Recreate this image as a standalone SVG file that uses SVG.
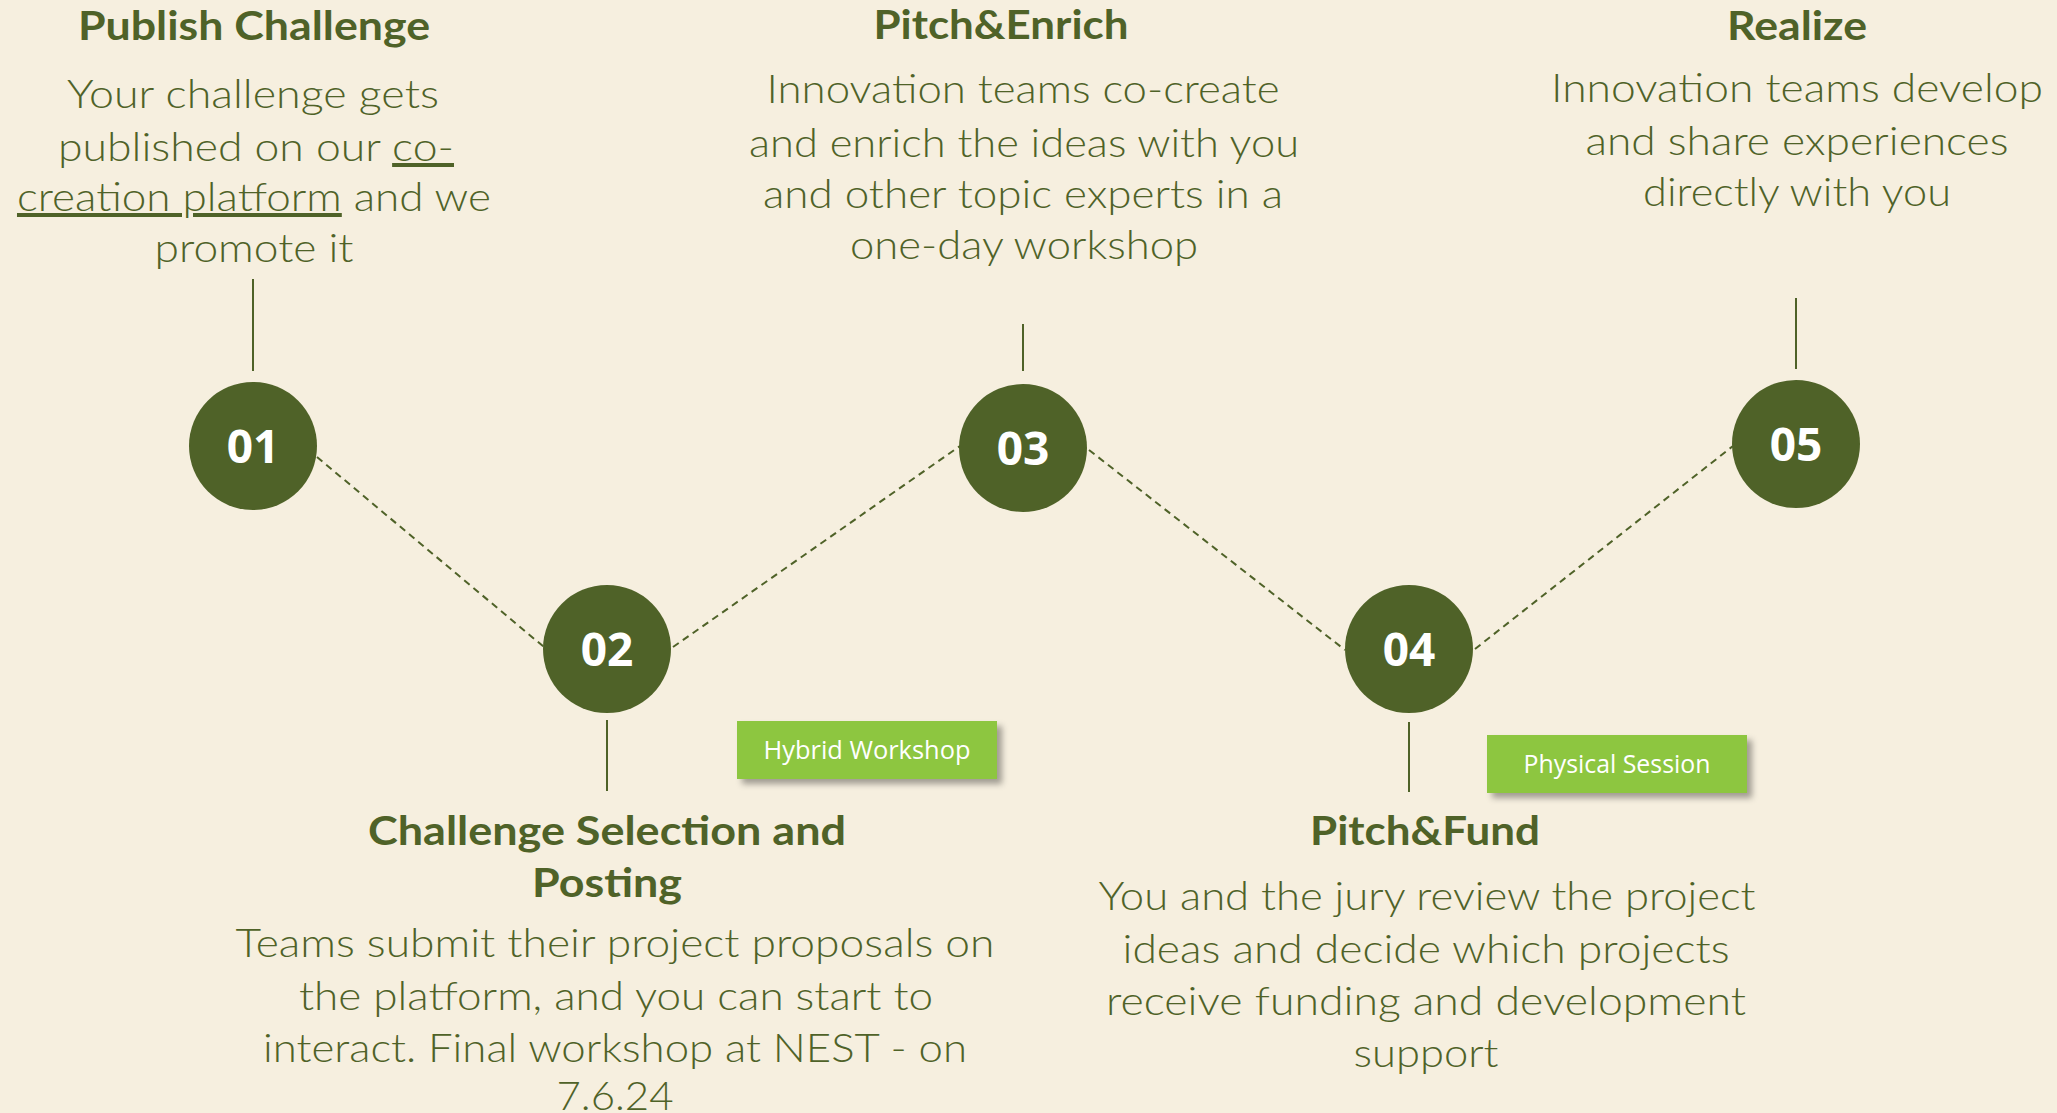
<svg xmlns="http://www.w3.org/2000/svg" width="2057" height="1113" viewBox="0 0 2057 1113">
<defs>
<filter id="sh" x="-10%" y="-20%" width="130%" height="160%">
<feDropShadow dx="5" dy="5" stdDeviation="3" flood-color="#000" flood-opacity="0.35"/>
</filter>
<style>
.bg{fill:#F6EFDF}
.circ{fill:#4F6228}
.num{font-family:"Open Sans","Liberation Sans",sans-serif;font-weight:700;font-size:46px;fill:#fff;text-anchor:middle}
.head{font-family:Lato,"Liberation Sans",sans-serif;font-weight:700;font-size:40px;fill:#4F6228;text-anchor:middle}
.body{font-family:Lato,"Liberation Sans",sans-serif;font-weight:300;font-size:40px;fill:#4F6228;text-anchor:middle}
.dash{stroke:#4F6228;stroke-width:2;stroke-dasharray:7 5;fill:none}
.stem{stroke:#4F6228;stroke-width:2;fill:none}
.tag{fill:#8DC63F}
.tagt{font-family:"Open Sans","Liberation Sans",sans-serif;font-size:25px;fill:#fff;text-anchor:middle}
</style>
</defs>
<rect class="bg" x="0" y="0" width="2057" height="1113"/>

<g id="connectors">
<line class="dash" x1="317" y1="457" x2="544" y2="647"/>
<line class="dash" x1="673" y1="647" x2="960" y2="446"/>
<line class="dash" x1="1089" y1="450" x2="1345" y2="650"/>
<line class="dash" x1="1475" y1="649" x2="1733" y2="446"/>
<line class="stem" x1="253" y1="279" x2="253" y2="371"/>
<line class="stem" x1="1023" y1="324" x2="1023" y2="371"/>
<line class="stem" x1="1796" y1="298" x2="1796" y2="369"/>
<line class="stem" x1="607" y1="720" x2="607" y2="791"/>
<line class="stem" x1="1409" y1="722" x2="1409" y2="792"/>
</g>

<g id="node-01">
<circle class="circ" cx="253" cy="446" r="64"/>
<text class="num" x="253" y="463">01</text>
<text class="head" x="254" y="40" textLength="352" lengthAdjust="spacingAndGlyphs">Publish Challenge</text>
<text class="body" x="253" y="108" textLength="372" lengthAdjust="spacingAndGlyphs">Your challenge gets</text>
<text class="body" x="256" y="161" textLength="396" lengthAdjust="spacingAndGlyphs">published on our <tspan text-decoration="underline">co-</tspan></text>
<text class="body" x="254" y="211" textLength="474" lengthAdjust="spacingAndGlyphs"><tspan text-decoration="underline">creation platform</tspan> and we</text>
<text class="body" x="254" y="262" textLength="199" lengthAdjust="spacingAndGlyphs">promote it</text>
</g>

<g id="node-02">
<circle class="circ" cx="607" cy="649" r="64"/>
<text class="num" x="607" y="666">02</text>
<text class="head" x="607" y="845" textLength="478" lengthAdjust="spacingAndGlyphs">Challenge Selection and</text>
<text class="head" x="607" y="897" textLength="150" lengthAdjust="spacingAndGlyphs">Posting</text>
<text class="body" x="615" y="957" textLength="759" lengthAdjust="spacingAndGlyphs">Teams submit their project proposals on</text>
<text class="body" x="616" y="1010" textLength="634" lengthAdjust="spacingAndGlyphs">the platform, and you can start to</text>
<text class="body" x="615" y="1062" textLength="704" lengthAdjust="spacingAndGlyphs">interact. Final workshop at NEST - on</text>
<text class="body" x="615" y="1110" textLength="117" lengthAdjust="spacingAndGlyphs">7.6.24</text>
</g>

<g id="tag-hybrid">
<rect class="tag" x="737" y="721" width="260" height="58" filter="url(#sh)"/>
<text class="tagt" x="867" y="759" textLength="207" lengthAdjust="spacingAndGlyphs">Hybrid Workshop</text>
</g>

<g id="node-03">
<circle class="circ" cx="1023" cy="448" r="64"/>
<text class="num" x="1023" y="465">03</text>
<text class="head" x="1001" y="39" textLength="255" lengthAdjust="spacingAndGlyphs">Pitch&amp;Enrich</text>
<text class="body" x="1023" y="103" textLength="513" lengthAdjust="spacingAndGlyphs">Innovation teams co-create</text>
<text class="body" x="1024" y="157" textLength="550" lengthAdjust="spacingAndGlyphs">and enrich the ideas with you</text>
<text class="body" x="1023" y="208" textLength="520" lengthAdjust="spacingAndGlyphs">and other topic experts in a</text>
<text class="body" x="1024" y="259" textLength="348" lengthAdjust="spacingAndGlyphs">one-day workshop</text>
</g>

<g id="node-04">
<circle class="circ" cx="1409" cy="649" r="64"/>
<text class="num" x="1409" y="666">04</text>
<text class="head" x="1425" y="845" textLength="230" lengthAdjust="spacingAndGlyphs">Pitch&amp;Fund</text>
<text class="body" x="1427" y="910" textLength="657" lengthAdjust="spacingAndGlyphs">You and the jury review the project</text>
<text class="body" x="1426" y="963" textLength="607" lengthAdjust="spacingAndGlyphs">ideas and decide which projects</text>
<text class="body" x="1426" y="1015" textLength="640" lengthAdjust="spacingAndGlyphs">receive funding and development</text>
<text class="body" x="1426" y="1067" textLength="145" lengthAdjust="spacingAndGlyphs">support</text>
</g>

<g id="tag-physical">
<rect class="tag" x="1487" y="735" width="260" height="58" filter="url(#sh)"/>
<text class="tagt" x="1617" y="773" textLength="187" lengthAdjust="spacingAndGlyphs">Physical Session</text>
</g>

<g id="node-05">
<circle class="circ" cx="1796" cy="444" r="64"/>
<text class="num" x="1796" y="461">05</text>
<text class="head" x="1797" y="40" textLength="140" lengthAdjust="spacingAndGlyphs">Realize</text>
<text class="body" x="1797" y="102" textLength="492" lengthAdjust="spacingAndGlyphs">Innovation teams develop</text>
<text class="body" x="1797" y="155" textLength="423" lengthAdjust="spacingAndGlyphs">and share experiences</text>
<text class="body" x="1797" y="206" textLength="308" lengthAdjust="spacingAndGlyphs">directly with you</text>
</g>
</svg>
